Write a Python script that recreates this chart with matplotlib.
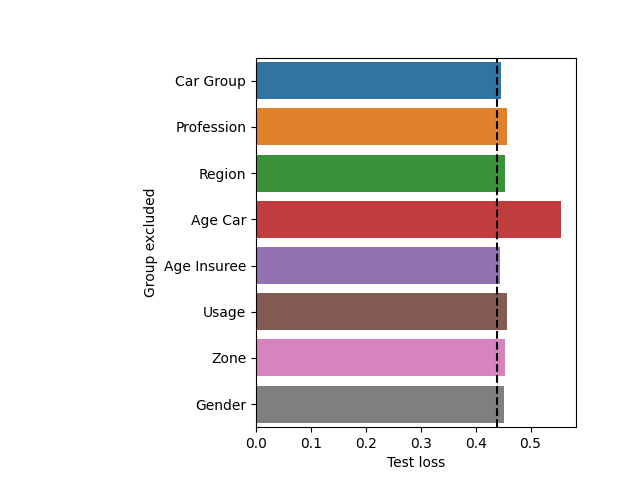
import matplotlib
matplotlib.use("Agg")
import matplotlib.pyplot as plt
import seaborn as sns
import pandas as pd

groups = ["Car Group", "Profession", "Region", "Age Car", "Age Insuree",
          "Usage", "Zone", "Gender"]
test_loss = [0.447, 0.4565, 0.453, 0.555, 0.445, 0.4565, 0.4535, 0.451]
baseline_loss = 0.439

df = pd.DataFrame({"Group excluded": groups, "Test loss": test_loss})

fig, ax = plt.subplots(figsize=(6.4, 4.8))
fig.subplots_adjust(left=0.4)
sns.barplot(data=df, x="Test loss", y="Group excluded", hue="Group excluded",
            palette="tab10", legend=False, ax=ax)
ax.axvline(baseline_loss, color="black", linestyle="--")

plt.savefig("out.png", dpi=100)
